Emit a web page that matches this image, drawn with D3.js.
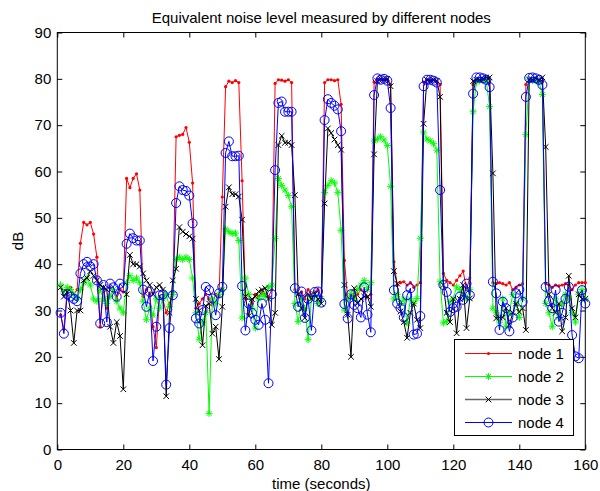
<!DOCTYPE html>
<html>
<head>
<meta charset="utf-8">
<script src="https://cdn.jsdelivr.net/npm/d3@7"></script>
<style>
  body { margin: 0; background: #fff; }
  svg { display: block; }
  text { font-family: Arial, "Liberation Sans", Helvetica, sans-serif; fill: #000; }
</style>
</head>
<body>
<svg id="chart" width="600" height="491"></svg>
<script>
// Sampling instants (seconds)
const time = [
  1,2,3,4,5,6,7,8,9,10,11,12,13,14,15,16,17,18,19,20,
  21,22,23,24,25,26,27,28,29,30,31,32,33,34,35,36,37,38,39,40,
  41,42,43,44,45,46,47,48,49,50,51,52,53,54,55,56,57,58,59,60,
  61,62,63,64,65,66,67,68,69,70,71,72,73,74,75,76,77,78,79,80,
  81,82,83,84,85,86,87,88,89,90,91,92,93,94,95,96,97,98,99,100,
  101,102,103,104,105,106,107,108,109,110,111,112,113,114,115,116,117,118,119,120,
  121,122,123,124,125,126,127,128,129,130,131,132,133,134,135,136,137,138,139,140,
  141,142,143,144,145,146,147,148,149,150,151,152,153,154,155,156,157,158,159,160
];

// Equivalent noise level (dB) per node
const node1 = [
  29,26,34.5,35,33.5,34.5,44.5,49,48.5,49,
  46.5,41.5,26.5,35,30.5,35,34,32.5,34.5,34,
  58.5,56.5,58.5,59.5,56,33,34.5,33.5,26.5,22,
  33,32.5,29.5,31.5,34,67.5,67.8,68,69.5,66.3,
  57.5,30.5,31.5,32.5,33.5,32.5,31.5,33.5,33,54.5,
  78.3,79.5,79.2,79.6,79.2,58,32.5,33.5,31.5,33.5,
  33,34,33.5,33,34.5,79,79.8,79.7,79.5,79.8,
  79.2,34.5,33.5,34,32.5,34.5,33.5,34,34.5,33,
  79.2,79.8,79.8,79.6,79.8,74.5,40.8,32.5,33.5,33,
  33.5,34.5,34,33,33.5,79.3,80,79.8,79.8,79.8,
  78.8,40.5,35.5,36,36.2,35.5,36,35,35.5,36,
  79.3,79.8,79.8,79.8,79.3,78.8,38,36.5,36,35.5,
  36.5,37.5,38.5,34.5,37,78.8,79.8,79.8,79.8,79.8,
  79.3,36,35.8,36,35.8,35.5,36,34.5,35,35.5,
  35.8,78.8,79.8,79.8,79.8,79.8,79.3,35.8,35.5,35,
  35.5,35.3,35.5,35.8,35.5,34.5,35.5,36,36,36
];
const node2 = [
  35.5,34,35,34.5,33.5,32.5,34.5,36,37,35.5,
  32.5,32,34.5,32.5,31.5,33,34.5,32,30.5,29.5,
  36,37.5,36.5,37,36,32,28,30.5,29,32.5,
  30.5,32.5,33.5,30.8,33.5,41,41.5,41,41.5,41,
  37,29.5,23.8,27.5,29.5,7.8,32.5,31.5,33.5,34.5,
  47.6,47,46.6,46.7,45.1,28.4,37,33.5,30.5,26.2,
  32.5,33.5,33,35,35.5,45.5,58.5,57,56,54.8,
  52.4,31.5,27.6,32.5,30.5,23.7,32.5,33.5,31.5,32.5,
  55.5,57,58,57.5,55.5,47.3,30.1,32.5,33.7,32.5,
  34.5,35.5,36.5,34.5,36,66.6,67,67.5,66.8,65.6,
  56.8,32.5,33.5,31.5,32.5,27.3,32.5,31.5,32.6,45.6,
  68.5,67,66.6,66,64.6,36.2,27.3,27.6,31.9,32.5,
  35.1,34.5,33.5,32.5,34.5,72.9,79.3,79.6,79.8,79.4,
  74,30.5,29.5,27.5,32.5,26.5,29.5,33.5,31.5,28.5,
  32.5,68,79.8,79.6,79.8,79.3,76.6,31.5,29.5,26.5,
  32.5,28.5,31.5,33.5,32.5,29.5,27.5,33.5,34.5,32.5
];
const node3 = [
  35,33,34,30,23,30,30,36.5,37,38.5,
  37.5,36.5,35.5,35,34.5,26.5,23,27.5,24.5,13,
  33.5,42,40,40,39.5,38,36.5,35.5,33.5,35,
  35.5,34.5,11.5,29.5,36.5,39,48,47,46.5,46,
  45.5,32.5,30,22.5,31,31.5,25,26.5,19.5,30.8,
  52.4,56.6,55.1,55.1,54.6,49.6,33,28.8,32.5,33,
  34.1,34.5,34.8,32.5,26.9,29.5,65.7,67.7,66.2,66.2,
  65.7,54.9,33.5,30.5,28.4,33.5,32.5,33.5,32.5,31.5,
  53.1,69.3,68.3,66.9,65.7,64.7,35.5,29.1,20,34.8,
  31.5,32.5,33,33,30.8,63.7,79.5,80,79.8,80,
  78.4,38.5,35.8,29.8,27.5,24.1,29.5,31.5,28,26.2,
  70.3,79.8,79.5,79.8,79.6,76.1,35.5,29.5,27.5,32.5,
  25.1,32.5,35.5,26.2,32.6,79.5,79.8,79.8,80,80.3,
  80.3,59.6,28.3,28.5,28.5,30.5,26.9,29.5,31.5,29.7,
  30.5,25.8,79.8,79.8,80.1,79.8,80.3,65.3,33.5,30.5,
  29.5,31.5,25.5,28.5,37.5,30.5,28.5,33.5,32.5,32.5
];
const node4 = [
  29.5,25,33.5,33,32.5,32,38,40,40.5,39.5,
  40,36.5,27.2,35.5,27.5,35.8,35,33,35.8,35,
  44.4,46.6,45.6,45.1,45.1,34.5,30.8,34,19.1,26.5,
  33.3,33.5,14,26.2,33.3,53.2,56.8,56,55.8,54.8,
  48.8,28.3,27.2,30.1,35.1,34.4,32.6,29,33.7,35.1,
  64,66.5,63.3,63.3,63.4,35.3,25.7,31.5,29.5,28,
  26.9,31.5,28,14.3,33.5,60.3,74.8,75.1,72.9,72.9,
  72.9,34.8,30.8,34.1,28.4,32.5,25.7,34,34.1,31.7,
  71.1,75.6,74.8,74.2,73.4,68.7,31.4,28.3,33.5,31.2,
  30.5,28.5,35,29.1,25.3,76.5,80.1,79.8,80,79.6,
  73.7,34.4,31.5,30.5,28.5,33.3,34.8,24.8,25,28.8,
  78.4,79.8,79.8,79.6,79.2,56,35.5,34,29.7,30.5,
  30.8,33,32.3,35.8,33.3,76.8,80.3,80.3,80.1,79.8,
  78.2,36.2,33.7,25.8,31.9,30.5,25.5,28.5,33.7,34.5,
  31.9,76.1,80.2,80.3,80.1,79.8,78.7,35.1,32,30.5,
  34.4,27.6,29.5,32.5,35.1,24.7,20.1,19.7,34.4,31.5
];

const seriesNames = ["node 1", "node 2", "node 3", "node 4"];
const seriesColors = ["#ff0000", "#00ff00", "#000000", "#0000ff"];
const seriesMarkers = ["dot", "star", "cross", "circle"];
const xTicks = [0, 20, 40, 60, 80, 100, 120, 140, 160];
const yTicks = [0, 10, 20, 30, 40, 50, 60, 70, 80, 90];

const svg = d3.select("#chart");
const plot = { left: 57.3, right: 585.3, top: 32.5, bottom: 449.5 };
const fontSize = 15;

const x = d3.scaleLinear().domain([0, 160]).range([plot.left, plot.right]);
const y = d3.scaleLinear().domain([0, 90]).range([plot.bottom, plot.top]);

// Axes with inward ticks on all four sides
const tickLen = 5;
function styleAxis(g) {
  g.select(".domain").remove();
  g.selectAll(".tick line").attr("stroke", "#000").attr("stroke-width", 1);
  g.selectAll(".tick text").attr("font-size", fontSize).attr("fill", "#000")
    .attr("font-family", "Arial, 'Liberation Sans', Helvetica, sans-serif");
}
svg.append("g").attr("transform", `translate(0,${plot.bottom})`)
  .call(d3.axisBottom(x).tickValues(xTicks).tickSizeInner(-tickLen).tickSizeOuter(0).tickPadding(10))
  .call(styleAxis);
svg.append("g").attr("transform", `translate(0,${plot.top})`)
  .call(d3.axisTop(x).tickValues(xTicks).tickSizeInner(-tickLen).tickSizeOuter(0).tickFormat(""))
  .call(styleAxis);
svg.append("g").attr("transform", `translate(${plot.left},0)`)
  .call(d3.axisLeft(y).tickValues(yTicks).tickSizeInner(-tickLen).tickSizeOuter(0).tickPadding(6))
  .call(styleAxis);
svg.append("g").attr("transform", `translate(${plot.right},0)`)
  .call(d3.axisRight(y).tickValues(yTicks).tickSizeInner(-tickLen).tickSizeOuter(0).tickFormat(""))
  .call(styleAxis);

// Plot box
svg.append("rect")
  .attr("x", plot.left).attr("y", plot.top)
  .attr("width", plot.right - plot.left).attr("height", plot.bottom - plot.top)
  .attr("fill", "none").attr("stroke", "#000").attr("stroke-width", 1);

// Marker shapes
const markerPath = {
  star: "M-3.5,0H3.5M0,-3.5V3.5M-2.5,-2.5L2.5,2.5M-2.5,2.5L2.5,-2.5",
  cross: "M-2.8,-2.8L2.8,2.8M-2.8,2.8L2.8,-2.8"
};
function drawMarker(g, kind, color) {
  if (kind === "dot") {
    g.append("circle").attr("r", 1.6).attr("fill", color).attr("stroke", "none");
  } else if (kind === "circle") {
    g.append("circle").attr("r", 4.5).attr("fill", "none").attr("stroke", color).attr("stroke-width", 1);
  } else {
    g.append("path").attr("d", markerPath[kind]).attr("fill", "none").attr("stroke", color).attr("stroke-width", 1);
  }
}

const allSeries = [node1, node2, node3, node4];
const line = d3.line().x(d => x(d[0])).y(d => y(d[1]));
const dataLayer = svg.append("g");

allSeries.forEach((vals, i) => {
  const pts = time.map((t, k) => [t, vals[k]]);
  const g = dataLayer.append("g");
  g.append("path").datum(pts).attr("d", line)
    .attr("fill", "none").attr("stroke", seriesColors[i]).attr("stroke-width", 1);
  pts.forEach(p => {
    const m = g.append("g").attr("transform", `translate(${x(p[0])},${y(p[1])})`);
    drawMarker(m, seriesMarkers[i], seriesColors[i]);
  });
});

// Title and axis labels
svg.append("text").attr("x", (plot.left + plot.right) / 2).attr("y", 22.5)
  .attr("text-anchor", "middle").attr("font-size", fontSize)
  .text("Equivalent noise level measured by different nodes");
svg.append("text").attr("x", (plot.left + plot.right) / 2).attr("y", 489)
  .attr("text-anchor", "middle").attr("font-size", fontSize)
  .text("time (seconds)");
svg.append("text").attr("transform", `translate(23,${(plot.top + plot.bottom) / 2}) rotate(-90)`)
  .attr("text-anchor", "middle").attr("font-size", fontSize)
  .text("dB");

// Legend
const legend = svg.append("g");
const lg = { x: 454.5, y: 339.5, w: 119, h: 96 };
legend.append("rect").attr("x", lg.x).attr("y", lg.y).attr("width", lg.w).attr("height", lg.h)
  .attr("fill", "#fff").attr("stroke", "#000").attr("stroke-width", 1);
const rowY = [353.5, 376.5, 399.5, 422.5];
seriesNames.forEach((name, i) => {
  const row = legend.append("g").attr("transform", `translate(0,${rowY[i]})`);
  row.append("line").attr("x1", 465).attr("x2", 512).attr("y1", 0).attr("y2", 0)
    .attr("stroke", seriesColors[i]).attr("stroke-width", i === 2 ? 1.5 : 1)
    .attr("stroke-opacity", i === 2 ? 0.6 : 1);
  const m = row.append("g").attr("transform", "translate(488.5,0)");
  drawMarker(m, seriesMarkers[i], seriesColors[i]);
  row.append("text").attr("x", 518).attr("y", 0).attr("dy", "0.36em")
    .attr("font-size", fontSize).text(name);
});
</script>
</body>
</html>
